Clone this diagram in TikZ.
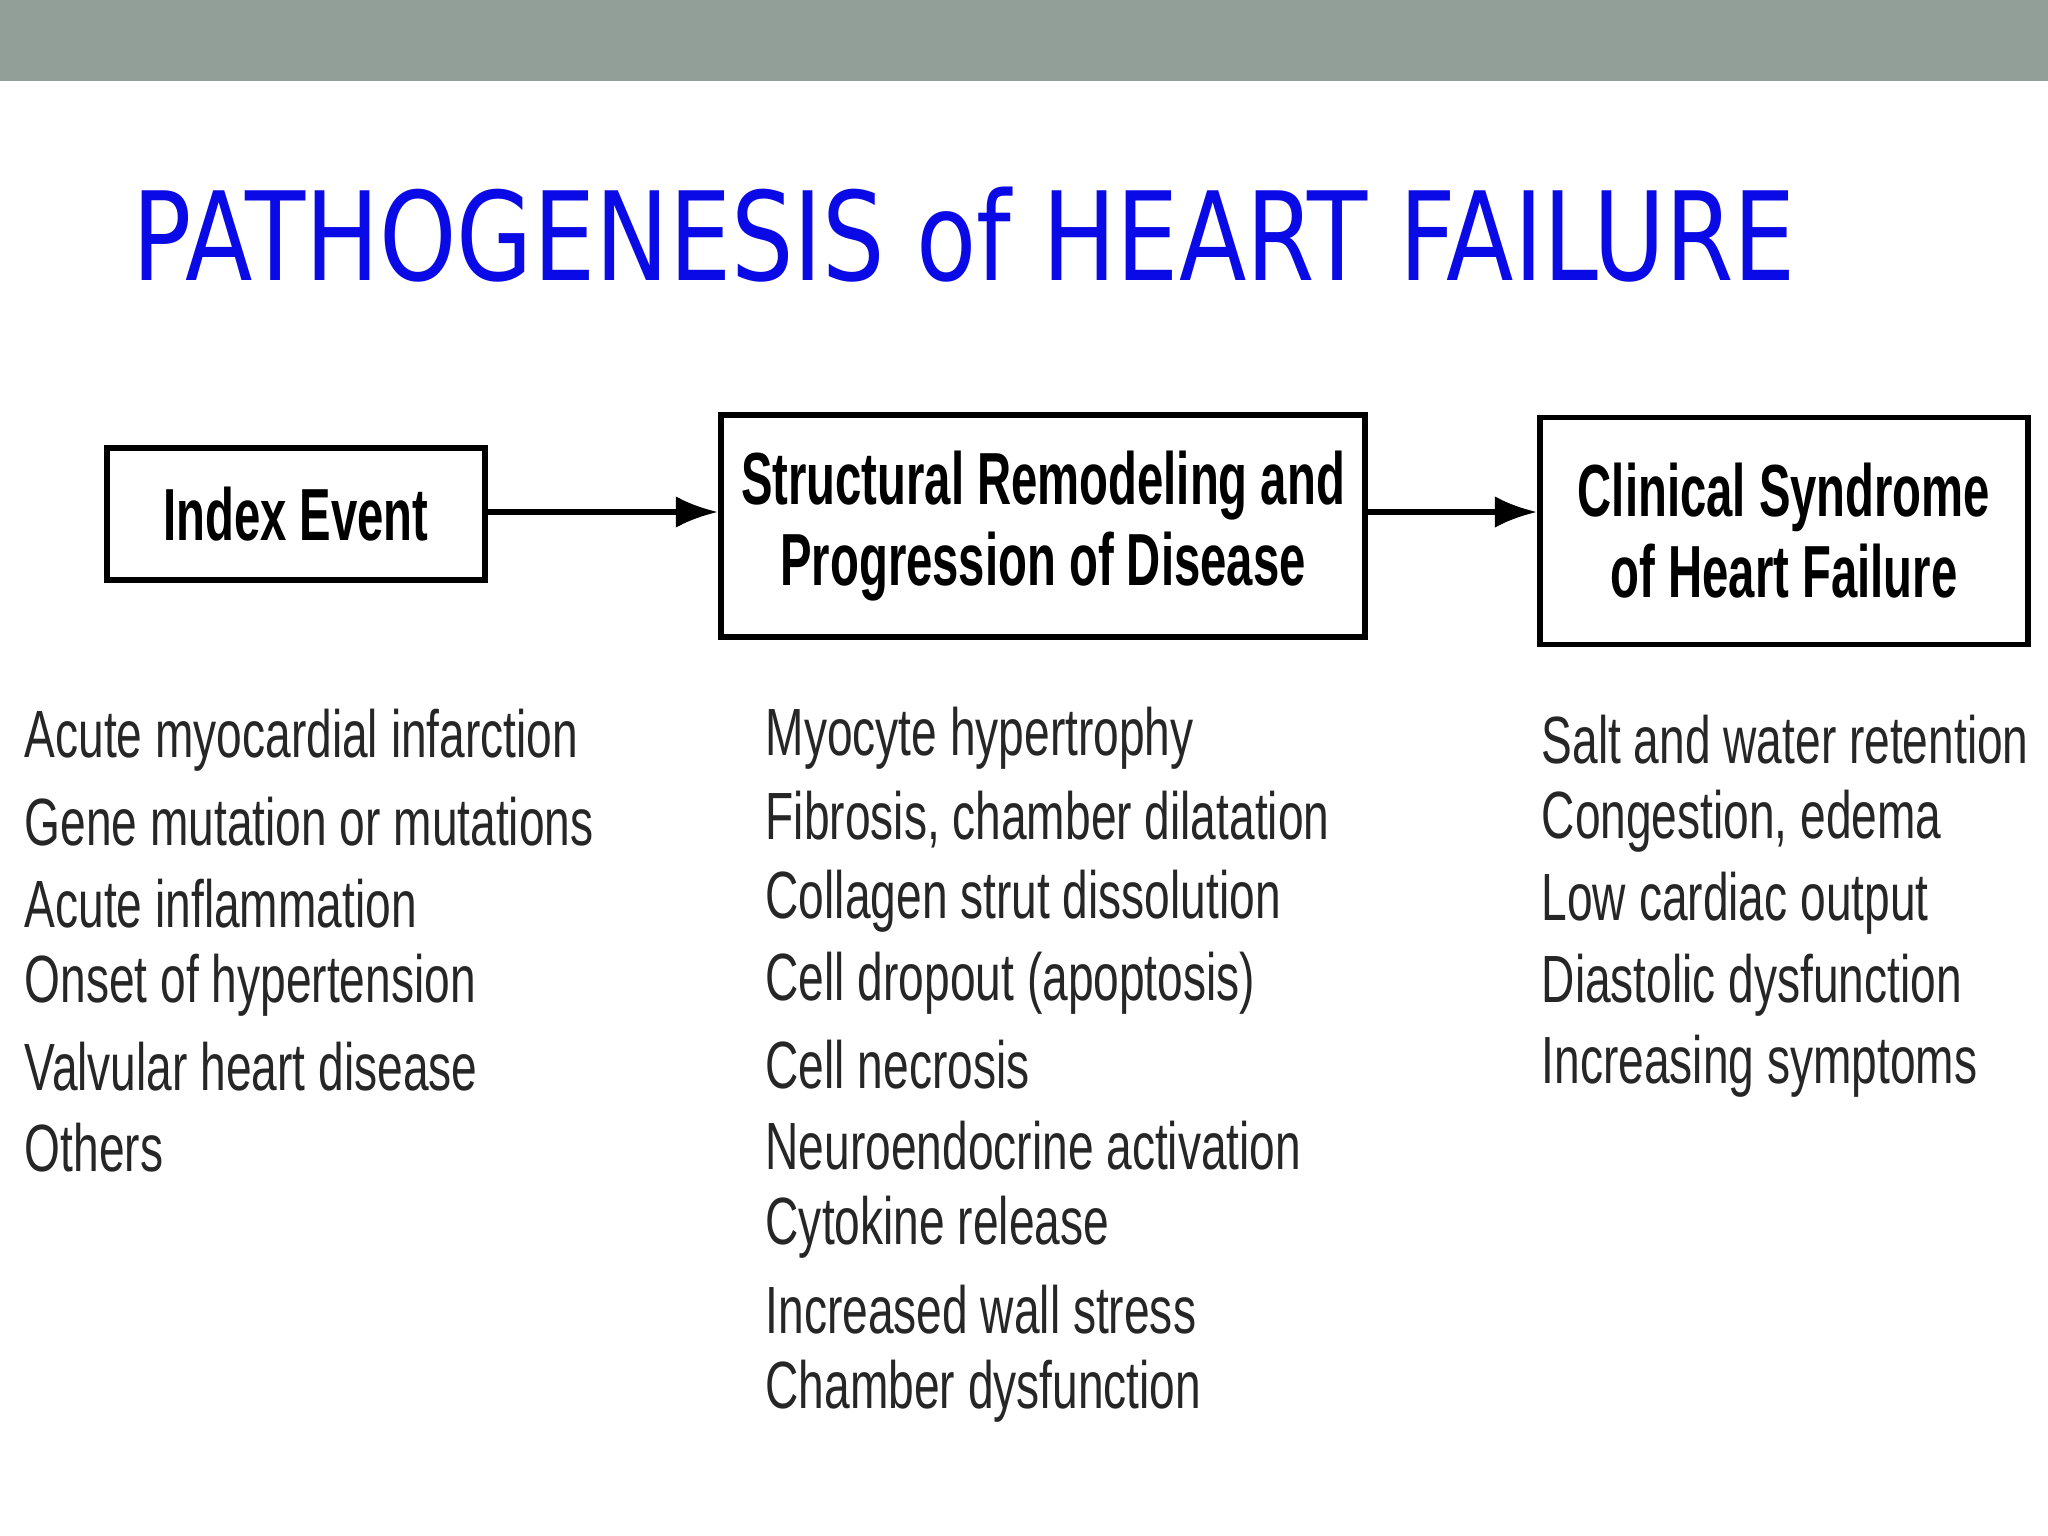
\documentclass[tikz,border=0pt]{standalone}
\usepackage{fontspec}
\setmainfont{Liberation Sans}[FakeStretch=0.69]
\newfontfamily\boxfont{Liberation Sans Bold}[FakeStretch=0.64]
\newfontfamily\titlefont{DejaVu Sans}[FakeStretch=0.8]
\usetikzlibrary{arrows.meta}
\definecolor{barg}{HTML}{929F98}
\definecolor{ttl}{RGB}{10,10,230}
\begin{document}
\begin{tikzpicture}[x=0.01cm,y=-0.01cm,
  box/.style={draw,line width=1.6pt,align=center,font=\boxfont\fontsize{21}{23}\selectfont,inner sep=0pt},
  item/.style={anchor=west,font=\fontsize{19}{22}\selectfont,inner sep=0pt,text=black!85},
  arr/.style={line width=1.5pt,-{Latex[length=12pt,width=9pt]}}]
\useasboundingbox (0,0) rectangle (2048,1536);
\fill[barg] (0,0) rectangle (2048,81);
\node[anchor=west,text=ttl,font=\titlefont\fontsize{35}{40}\selectfont] (title) at (120,235) {PATHOGENESIS of HEART FAILURE};
\node[box,minimum width=3.78cm,minimum height=1.32cm] (b1) at (296,514) {Index Event};
\node[box,minimum width=6.44cm,minimum height=2.22cm] (b2) at (1043,526) {Structural Remodeling and\\Progression of Disease};
\node[box,minimum width=4.88cm,minimum height=2.27cm] (b3) at (1784,531) {Clinical Syndrome\\of Heart Failure};
\draw[arr] (b1.east|-0,512) -- (b2.west|-0,512);
\draw[arr] (b2.east|-0,512) -- (b3.west|-0,512);
\foreach \t [count=\i] in {Acute myocardial infarction,Gene mutation or mutations,Acute inflammation,Onset of hypertension,Valvular heart disease,Others}
  \node[item] (l\i) at (24,{740+81.6*(\i-1)}) {\t};
\foreach \t [count=\i] in {Myocyte hypertrophy,{Fibrosis, chamber dilatation},Collagen strut dissolution,Cell dropout (apoptosis),Cell necrosis,Neuroendocrine activation,Cytokine release,Increased wall stress,Chamber dysfunction}
  \node[item] (m\i) at (765,{738+81.6*(\i-1)}) {\t};
\foreach \t [count=\i] in {Salt and water retention,{Congestion, edema},Low cardiac output,Diastolic dysfunction,Increasing symptoms}
  \node[item] (r\i) at (1541,{740+81.6*(\i-1)}) {\t};
\end{tikzpicture}
\end{document}
